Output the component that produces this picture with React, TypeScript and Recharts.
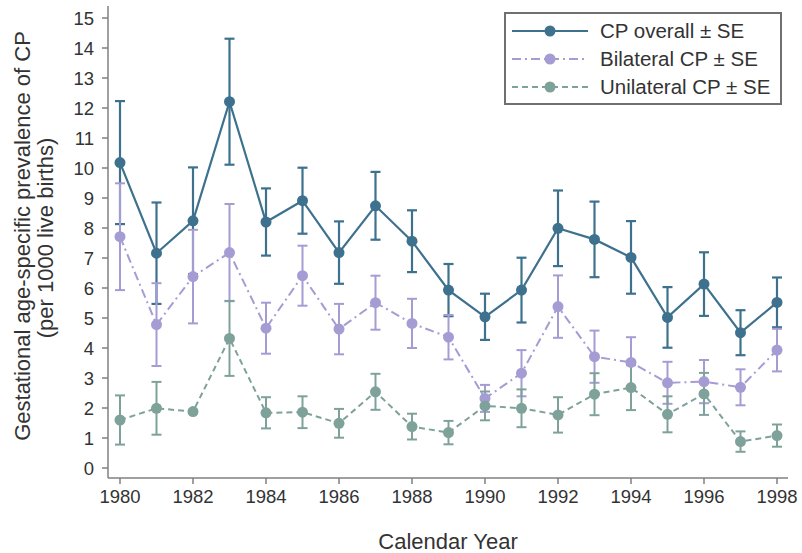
import { LineChart, Line, XAxis, YAxis, ErrorBar, Legend, Label } from 'recharts'

const years = [1980, 1981, 1982, 1983, 1984, 1985, 1986, 1987, 1988, 1989, 1990, 1991, 1992, 1993, 1994, 1995, 1996, 1997, 1998]
const cpOverall = [10.18, 7.16, 8.24, 12.21, 8.2, 8.91, 7.18, 8.74, 7.56, 5.93, 5.04, 5.93, 7.99, 7.62, 7.02, 5.02, 6.13, 4.51, 5.52]
const cpSE = [2.05, 1.69, 1.78, 2.1, 1.12, 1.1, 1.04, 1.13, 1.03, 0.87, 0.77, 1.08, 1.26, 1.26, 1.21, 1.01, 1.06, 0.75, 0.83]
const bilateral = [7.71, 4.78, 6.38, 7.18, 4.66, 6.41, 4.63, 5.51, 4.82, 4.36, 2.32, 3.16, 5.38, 3.71, 3.52, 2.84, 2.88, 2.69, 3.93]
const bilateralSE = [1.78, 1.38, 1.56, 1.62, 0.85, 1.0, 0.84, 0.9, 0.82, 0.74, 0.45, 0.77, 1.04, 0.87, 0.84, 0.7, 0.72, 0.6, 0.71]
const unilateral = [1.6, 1.99, 1.88, 4.32, 1.84, 1.86, 1.49, 2.54, 1.38, 1.18, 2.07, 1.99, 1.77, 2.46, 2.68, 1.79, 2.47, 0.88, 1.08]
const unilateralSE = [0.82, 0.88, 0.06, 1.25, 0.52, 0.53, 0.48, 0.6, 0.43, 0.39, 0.48, 0.63, 0.59, 0.7, 0.75, 0.6, 0.7, 0.34, 0.37]

const xTicks = [1980, 1982, 1984, 1986, 1988, 1990, 1992, 1994, 1996, 1998]
const yTicks = [0, 1, 2, 3, 4, 5, 6, 7, 8, 9, 10, 11, 12, 13, 14, 15]

const seriesNames = ['CP overall ± SE', 'Bilateral CP ± SE', 'Unilateral CP ± SE']

const FONT = '"Liberation Sans", Arial, Helvetica, sans-serif'
const TEXT = '#333333'
const AXIS = '#808080'
const C_CP = '#3d718e'
const C_BI = '#a59cd4'
const C_UNI = '#7ea29a'

const styles = [
  { color: C_CP, dash: undefined as string | undefined },
  { color: C_BI, dash: '9 4 2 4' },
  { color: C_UNI, dash: '6 4' },
]

const data = years.map((year, i) => ({
  year,
  cp: cpOverall[i],
  cpErr: cpSE[i],
  bi: bilateral[i],
  biErr: bilateralSE[i],
  uni: unilateral[i],
  uniErr: unilateralSE[i],
}))

function LegendBox() {
  return (
    <div
      style={{
        width: 278,
        height: 93,
        boxSizing: 'border-box',
        border: '2px solid #707070',
        background: '#fff',
        paddingTop: 3,
        fontFamily: FONT,
      }}
    >
      {seriesNames.map((name, i) => (
        <div key={name} style={{ display: 'flex', alignItems: 'center', height: 28 }}>
          <svg width={90} height={28}>
            <line x1={6} x2={82} y1={14} y2={14} stroke={styles[i].color} strokeWidth={2} strokeDasharray={styles[i].dash} />
            <circle cx={44} cy={14} r={5.5} fill={styles[i].color} />
          </svg>
          <span style={{ marginLeft: 4, fontSize: 20.5, color: TEXT, whiteSpace: 'nowrap' }}>{name}</span>
        </div>
      ))}
    </div>
  )
}

export default function App() {
  return (
    <div style={{ position: 'absolute', left: 0, top: 0, background: '#fff' }}>
      <LineChart width={802} height={553} data={data} margin={{ top: 6, right: 14, bottom: 0, left: 0 }}>
        <XAxis
          dataKey="year"
          type="number"
          domain={[1980, 1998]}
          ticks={xTicks}
          padding={{ left: 12, right: 11 }}
          height={75}
          tickSize={6}
          tickMargin={6}
          stroke={AXIS}
          strokeWidth={1.5}
          tick={{ fontSize: 18.5, fill: TEXT, fontFamily: FONT }}
        >
          <Label
            content={() => (
              <text x={448} y={549} textAnchor="middle" fontSize={22} fill={TEXT} fontFamily={FONT}>
                Calendar Year
              </text>
            )}
          />
        </XAxis>
        <YAxis
          type="number"
          domain={[0, 15]}
          ticks={yTicks}
          padding={{ top: 12, bottom: 10 }}
          width={108}
          tickSize={6}
          tickMargin={8}
          stroke={AXIS}
          strokeWidth={1.5}
          interval={0}
          tick={{ fontSize: 18.5, fill: TEXT, fontFamily: FONT }}
        >
          <Label
            content={() => (
              <g fontFamily={FONT} fontSize={22} fill={TEXT}>
                <text transform="translate(30,236) rotate(-90)" textAnchor="middle">
                  Gestational age-specific prevalence of CP
                </text>
                <text transform="translate(53,238) rotate(-90)" textAnchor="middle">
                  (per 1000 live births)
                </text>
              </g>
            )}
          />
        </YAxis>
        <Legend
          layout="vertical"
          align="center"
          verticalAlign="middle"
          content={() => <LegendBox />}
          wrapperStyle={{ left: 504, top: 12, width: 278, height: 93 }}
        />
        <Line
          type="linear"
          dataKey="cp"
          stroke={C_CP}
          strokeWidth={2.2}
          dot={{ r: 5.5, fill: C_CP, stroke: C_CP, strokeWidth: 0 }}
          activeDot={false}
          isAnimationActive={false}
        >
          <ErrorBar dataKey="cpErr" direction="y" width={5} stroke={C_CP} strokeWidth={2.2} />
        </Line>
        <Line
          type="linear"
          dataKey="bi"
          stroke={C_BI}
          strokeWidth={2}
          strokeDasharray="9 4 2 4"
          dot={{ r: 5.5, fill: C_BI, stroke: C_BI, strokeWidth: 0, strokeDasharray: '' }}
          activeDot={false}
          isAnimationActive={false}
        >
          <ErrorBar dataKey="biErr" direction="y" width={5} stroke={C_BI} strokeWidth={2} />
        </Line>
        <Line
          type="linear"
          dataKey="uni"
          stroke={C_UNI}
          strokeWidth={2}
          strokeDasharray="6 4"
          dot={{ r: 5.5, fill: C_UNI, stroke: C_UNI, strokeWidth: 0, strokeDasharray: '' }}
          activeDot={false}
          isAnimationActive={false}
        >
          <ErrorBar dataKey="uniErr" direction="y" width={5} stroke={C_UNI} strokeWidth={2} />
        </Line>
      </LineChart>
    </div>
  )
}
